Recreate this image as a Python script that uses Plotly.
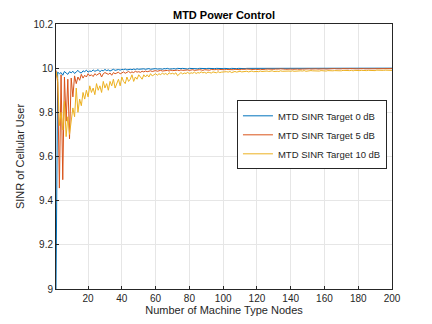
import plotly.graph_objects as go

# number of machine type nodes, 1..200
nodes = list(range(1, 201))

sinr_0db = [
    9.000, 9.982, 9.975, 9.980, 9.968, 9.985, 9.978, 9.972, 9.984, 9.979,
    9.986, 9.976, 9.983, 9.990, 9.981, 9.978, 9.988, 9.984, 9.991, 9.982,
    9.987, 9.985, 9.992, 9.986, 9.989, 9.993, 9.984, 9.990, 9.988, 9.994,
    9.989, 9.992, 9.987, 9.993, 9.995, 9.990, 9.992, 9.994, 9.991, 9.995,
    9.993, 9.996, 9.992, 9.994, 9.995, 9.993, 9.996, 9.994, 9.997, 9.995,
    9.996, 9.994, 9.997, 9.995, 9.996, 9.998, 9.995, 9.997, 9.996, 9.998,
    9.996, 9.998, 9.997, 9.995, 9.998, 9.997, 9.999, 9.996, 9.998, 9.997,
    9.998, 9.996, 9.999, 9.997, 9.998, 9.999, 9.997, 9.998, 9.996, 9.999,
    9.998, 9.997, 9.999, 9.998, 9.997, 9.999, 9.998, 9.999, 9.997, 9.998,
    9.999, 9.998, 9.997, 9.999, 9.998, 9.999, 9.998, 9.997, 9.999, 9.998,
    9.999, 9.998, 9.999, 9.997, 9.999, 9.998, 9.999, 9.998, 9.999, 9.998,
    9.998, 9.999, 9.998, 9.999, 9.999, 9.998, 9.999, 9.998, 9.999, 9.999,
    9.998, 9.999, 9.999, 9.998, 9.999, 9.999, 9.998, 9.999, 10.000, 9.999,
    9.999, 9.998, 9.999, 10.000, 9.999, 9.999, 9.998, 9.999, 10.000, 9.999,
    9.999, 10.000, 9.999, 9.999, 9.998, 9.999, 10.000, 9.999, 9.999, 10.000,
    9.999, 9.999, 10.000, 9.999, 10.000, 9.999, 9.999, 10.000, 9.999, 10.000,
    9.999, 10.000, 9.999, 10.000, 9.999, 10.000, 10.000, 9.999, 10.000, 9.999,
    10.000, 9.999, 10.000, 10.000, 9.999, 10.000, 10.000, 9.999, 10.000, 10.000,
    9.999, 10.000, 10.000, 10.000, 9.999, 10.000, 10.000, 10.000, 9.999, 10.000,
    10.000, 10.000, 9.999, 10.000, 10.000, 10.000, 10.000, 9.999, 10.000, 10.000,
]

sinr_5db = [
    9.990, 9.935, 9.457, 9.970, 9.495, 9.960, 9.760, 9.950, 9.680, 9.955,
    9.870, 9.965, 9.930, 9.960, 9.945, 9.972, 9.955, 9.968, 9.960, 9.975,
    9.965, 9.970, 9.962, 9.975, 9.968, 9.972, 9.978, 9.960, 9.975, 9.980,
    9.976, 9.972, 9.978, 9.968, 9.980, 9.975, 9.978, 9.982, 9.974, 9.980,
    9.983, 9.977, 9.981, 9.985, 9.979, 9.983, 9.980, 9.986, 9.982, 9.984,
    9.981, 9.986, 9.983, 9.987, 9.984, 9.986, 9.988, 9.985, 9.987, 9.989,
    9.986, 9.988, 9.990, 9.987, 9.989, 9.988, 9.990, 9.987, 9.991, 9.989,
    9.990, 9.988, 9.991, 9.989, 9.992, 9.990, 9.991, 9.989, 9.992, 9.990,
    9.991, 9.993, 9.990, 9.992, 9.991, 9.993, 9.992, 9.990, 9.993, 9.992,
    9.993, 9.991, 9.994, 9.992, 9.993, 9.994, 9.992, 9.994, 9.993, 9.995,
    9.993, 9.994, 9.993, 9.995, 9.994, 9.993, 9.995, 9.994, 9.995, 9.993,
    9.995, 9.994, 9.995, 9.996, 9.994, 9.995, 9.994, 9.996, 9.995, 9.994,
    9.996, 9.995, 9.994, 9.996, 9.995, 9.996, 9.995, 9.994, 9.996, 9.995,
    9.996, 9.995, 9.996, 9.997, 9.995, 9.996, 9.995, 9.996, 9.997, 9.996,
    9.995, 9.996, 9.997, 9.996, 9.995, 9.997, 9.996, 9.996, 9.997, 9.996,
    9.997, 9.996, 9.997, 9.996, 9.997, 9.996, 9.997, 9.997, 9.996, 9.997,
    9.996, 9.997, 9.997, 9.996, 9.997, 9.998, 9.997, 9.996, 9.997, 9.997,
    9.998, 9.997, 9.996, 9.997, 9.998, 9.997, 9.997, 9.998, 9.997, 9.997,
    9.998, 9.997, 9.998, 9.997, 9.997, 9.998, 9.997, 9.998, 9.997, 9.998,
    9.997, 9.998, 9.998, 9.997, 9.998, 9.997, 9.998, 9.998, 9.997, 9.998,
]

sinr_10db = [
    9.985, 9.950, 9.740, 9.800, 9.720, 9.850, 9.690, 9.780, 9.700, 9.760,
    9.820, 9.780, 9.910, 9.800, 9.860, 9.830, 9.890, 9.860, 9.900, 9.870,
    9.920, 9.890, 9.910, 9.880, 9.930, 9.900, 9.920, 9.890, 9.940, 9.910,
    9.930, 9.900, 9.940, 9.920, 9.950, 9.910, 9.930, 9.950, 9.920, 9.960,
    9.940, 9.930, 9.960, 9.940, 9.950, 9.970, 9.940, 9.960, 9.950, 9.970,
    9.960, 9.950, 9.970, 9.960, 9.970, 9.960, 9.975, 9.965, 9.970, 9.975,
    9.968, 9.975, 9.970, 9.978, 9.972, 9.976, 9.970, 9.979, 9.974, 9.977,
    9.973, 9.979, 9.966, 9.975, 9.980, 9.974, 9.978, 9.976, 9.981, 9.975,
    9.979, 9.977, 9.982, 9.976, 9.980, 9.978, 9.983, 9.979, 9.981, 9.977,
    9.982, 9.980, 9.978, 9.983, 9.981, 9.979, 9.984, 9.980, 9.982, 9.983,
    9.981, 9.984, 9.982, 9.985, 9.980, 9.983, 9.985, 9.982, 9.984, 9.986,
    9.983, 9.985, 9.984, 9.986, 9.983, 9.985, 9.987, 9.984, 9.986, 9.985,
    9.984, 9.987, 9.985, 9.986, 9.984, 9.987, 9.985, 9.986, 9.988, 9.985,
    9.987, 9.986, 9.985, 9.988, 9.986, 9.987, 9.985, 9.988, 9.987, 9.986,
    9.988, 9.986, 9.987, 9.988, 9.986, 9.988, 9.987, 9.989, 9.986, 9.988,
    9.987, 9.989, 9.988, 9.987, 9.989, 9.988, 9.987, 9.989, 9.988, 9.989,
    9.987, 9.989, 9.988, 9.990, 9.988, 9.989, 9.988, 9.990, 9.989, 9.988,
    9.990, 9.989, 9.988, 9.990, 9.989, 9.990, 9.988, 9.990, 9.989, 9.990,
    9.989, 9.990, 9.989, 9.991, 9.989, 9.990, 9.989, 9.991, 9.990, 9.989,
    9.991, 9.990, 9.989, 9.991, 9.990, 9.991, 9.990, 9.989, 9.991, 9.990,
]

series_names = ["MTD SINR Target 0 dB", "MTD SINR Target 5 dB", "MTD SINR Target 10 dB"]
colors = ["#0072BD", "#D95319", "#EDB120"]

fig = go.Figure()
for name, ys, c in zip(series_names, [sinr_0db, sinr_5db, sinr_10db], colors):
    fig.add_trace(go.Scatter(x=nodes, y=ys, name=name, mode="lines",
                             line=dict(color=c, width=1)))

axis_style = dict(showline=True, linecolor="#262626", linewidth=1, mirror=True,
                  ticks="inside", ticklen=3, tickcolor="#262626",
                  showgrid=True, gridcolor="#e6e6e6", gridwidth=1, zeroline=False,
                  automargin=False,
                  tickfont=dict(size=10, color="#262626"))

# the page body adds an 8px offset, so the figure is a bit smaller than the window
fig.update_layout(
    width=424, height=316,
    margin=dict(l=48, r=40, t=16, b=35),
    paper_bgcolor="white", plot_bgcolor="white",
    font=dict(family="Liberation Sans, Arial, sans-serif", color="#262626"),
    title=dict(text="<b>MTD Power Control</b>", xref="paper", x=0.5, xanchor="center",
               y=0.978, yanchor="middle", font=dict(size=11, color="black")),
    legend=dict(x=0.985, xanchor="right", y=0.712, yanchor="top",
                bordercolor="#262626", borderwidth=1, bgcolor="white",
                font=dict(size=9.5), tracegroupgap=0, itemwidth=30),
    showlegend=True,
)
fig.update_xaxes(range=[1, 200], dtick=20, tick0=0,
                 title=dict(text="Number of Machine Type Nodes", font=dict(size=11), standoff=3),
                 **axis_style)
fig.update_yaxes(range=[9, 10.2], dtick=0.2, tick0=9,
                 title=dict(text="SINR of Cellular User", font=dict(size=11), standoff=6),
                 **axis_style)

fig.write_html("out.html")
